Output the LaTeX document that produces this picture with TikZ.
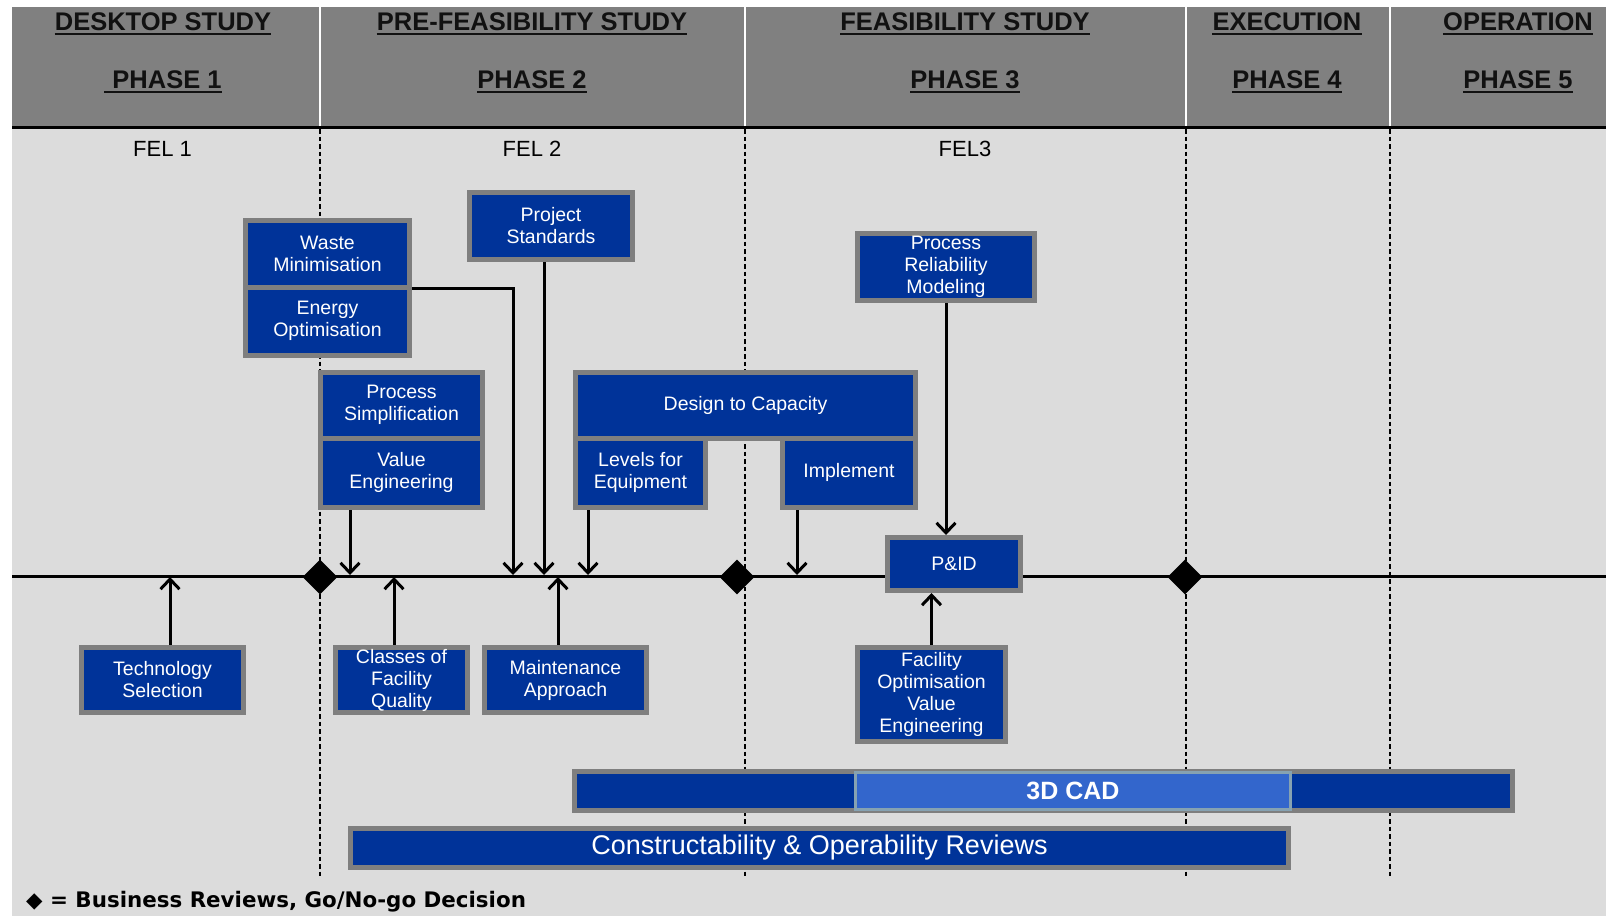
\documentclass[tikz,border=0pt]{standalone}
\usepackage{fontspec}
\setmainfont{Liberation Sans}
\newfontfamily\dejavu{DejaVu Sans}
\usetikzlibrary{arrows.meta,calc,shapes.geometric}
\definecolor{hdrgrey}{HTML}{808080}
\definecolor{bodygrey}{HTML}{DCDCDC}
\definecolor{boxblue}{HTML}{003399}
\definecolor{boxedge}{HTML}{7F7F7F}
\definecolor{lightblue}{HTML}{3366CC}
\definecolor{lightedge}{HTML}{86A2B2}
\definecolor{hdrtext}{HTML}{111111}
\begin{document}
\begin{tikzpicture}[x=1pt,y=-1pt,
  blk/.style={draw=boxedge, line width=5pt, fill=boxblue, text=white, inner sep=0pt,
    align=center, font=\fontsize{19.5pt}{22pt}\selectfont},
  hdrtxt/.style={font=\bfseries\fontsize{25.5pt}{30pt}\selectfont, text=hdrtext, inner sep=0pt, anchor=base},
  uline/.style={draw=hdrtext, line width=2.5pt},
  feltxt/.style={font=\fontsize{22pt}{26pt}\selectfont, text=black, inner sep=0pt, anchor=base},
  phaseline/.style={draw=black, line width=2pt, dash pattern=on 4.5pt off 3pt},
  hdrsep/.style={draw=white, line width=2.5pt},
  gate/.style={diamond, fill=black, minimum width=35pt, minimum height=35pt, inner sep=0pt},
  conn/.style={draw=black, line width=3pt, -{Straight Barb[length=10pt,width=19pt]}},
  ]
\useasboundingbox (0,0) rectangle (1606,916);
\fill[white] (0,0) rectangle (1606,916);
% header and body
\fill[hdrgrey] (12,7) rectangle (1606,127);
\fill[bodygrey] (12,127) rectangle (1606,916);
\foreach \x in {320,745,1186,1390} {\draw[hdrsep] (\x,7) -- (\x,126);}
\draw[black, line width=3pt] (12,127) -- (1606,127);
% header texts
\node[hdrtxt] (h1a) at (163,30) {DESKTOP STUDY};
\node[hdrtxt] (h1b) at (163,88) {\hspace*{8pt}PHASE 1};
\node[hdrtxt] (h2a) at (532,30) {PRE-FEASIBILITY STUDY};
\node[hdrtxt] (h2b) at (532,88) {PHASE 2};
\node[hdrtxt] (h3a) at (965,30) {FEASIBILITY STUDY};
\node[hdrtxt] (h3b) at (965,88) {PHASE 3};
\node[hdrtxt] (h4a) at (1287,30) {EXECUTION};
\node[hdrtxt] (h4b) at (1287,88) {PHASE 4};
\node[hdrtxt] (h5a) at (1518,30) {OPERATION};
\node[hdrtxt] (h5b) at (1518,88) {PHASE 5};
\foreach \n in {h1a,h1b,h2a,h2b,h3a,h3b,h4a,h4b,h5a,h5b}
  {\draw[uline] ([yshift=-3.8pt]\n.base west) -- ([yshift=-3.8pt]\n.base east);}
% FEL labels
\node[feltxt] (fel1) at (162.5,156) {FEL 1};
\node[feltxt] (fel2) at (532,156) {FEL 2};
\node[feltxt] (fel3) at (965,156) {FEL3};
% phase dividers
\foreach \x in {320,745,1186,1390} {\draw[phaseline] (\x,129) -- (\x,877);}
% timeline
\draw[black, line width=3pt] (12,576) -- (1606,576);
\node[gate] (g1) at (320,577) {};
\node[gate] (g2) at (737,577) {};
\node[gate] (g3) at (1185,577) {};
% timeline arrow points
\coordinate (tTech) at (170,577);
\coordinate (tClass) at (394,577);
\coordinate (tMaint) at (558,577);
\coordinate (tValue) at (350,575);
\coordinate (tWaste) at (513,575);
\coordinate (tProj) at (544,575);
\coordinate (tLevel) at (588,575);
\coordinate (tImpl) at (797,575);
% boxes above
\node[blk, minimum width=164pt, minimum height=66.5pt] (waste) at (327.5,253.75) {Waste\\Minimisation};
\node[blk, minimum width=164pt, minimum height=68.5pt] (energy) at (327.5,321.25) {Energy\\Optimisation};
\node[blk, minimum width=163pt, minimum height=67pt] (proj) at (551,226) {Project\\Standards};
\node[blk, minimum width=162pt, minimum height=65.5pt] (psimp) at (401.5,405.25) {Process\\Simplification};
\node[blk, minimum width=162pt, minimum height=69.5pt] (veng) at (401.5,472.75) {Value\\Engineering};
\node[blk, minimum width=340pt, minimum height=65.5pt] (dcap) at (745.5,405.25) {Design to Capacity};
\node[blk, minimum width=130pt, minimum height=69.5pt] (levels) at (640.5,472.75) {Levels for\\Equipment};
\node[blk, minimum width=133pt, minimum height=69.5pt] (impl) at (849,472.75) {Implement};
\node[blk, minimum width=177pt, minimum height=67pt] (prm) at (946,267) {Process\\Reliability\\Modeling};
\node[blk, minimum width=133pt, minimum height=53pt] (pid) at (954,564) {P\&ID};
% boxes below
\node[blk, minimum width=162pt, minimum height=65pt] (tech) at (162.5,680) {Technology\\Selection};
\node[blk, minimum width=132pt, minimum height=65pt] (classes) at (401.5,680) {Classes of\\Facility\\Quality};
\node[blk, minimum width=162pt, minimum height=65pt] (maint) at (565.5,680) {Maintenance\\Approach};
\node[blk, minimum width=148pt, minimum height=94pt] (fac) at (931.5,694.5) {Facility\\Optimisation\\Value\\Engineering};
% bars
\node[blk, minimum width=938pt, minimum height=39pt] (cad) at (1043.5,791) {};
\node[draw=lightedge, line width=3.5pt, fill=lightblue, text=white, inner sep=0pt,
  minimum width=435pt, minimum height=37pt,
  font=\bfseries\fontsize{25pt}{30pt}\selectfont] (cad3d) at (1073,791) {3D CAD};
\node[blk, minimum width=938pt, minimum height=39pt, font=\fontsize{27pt}{32pt}\selectfont] (rev) at (819.5,848) {Constructability \& Operability Reviews};
% connectors
\draw[conn] (tech.north -| tTech) -- (tTech);
\draw[conn] (classes.north -| tClass) -- (tClass);
\draw[conn] (maint.north -| tMaint) -- (tMaint);
\draw[conn] (fac.north) -- (fac.north |- pid.south);
\draw[conn] (veng.south -| tValue) -- (tValue);
\draw[conn] ([yshift=1.5pt]waste.south east) -| (tWaste);
\draw[conn] (proj.south -| tProj) -- (tProj);
\draw[conn] (levels.south -| tLevel) -- (tLevel);
\draw[conn] (impl.south -| tImpl) -- (tImpl);
\draw[conn] (prm.south) -- (prm.south |- pid.north);
% legend
\node[anchor=base west, inner sep=0pt, text=black,
  font=\dejavu\bfseries\fontsize{21.4pt}{25pt}\selectfont] (legend) at (26,907) {◆ = Business Reviews, Go/No-go Decision};
\end{tikzpicture}
\end{document}
